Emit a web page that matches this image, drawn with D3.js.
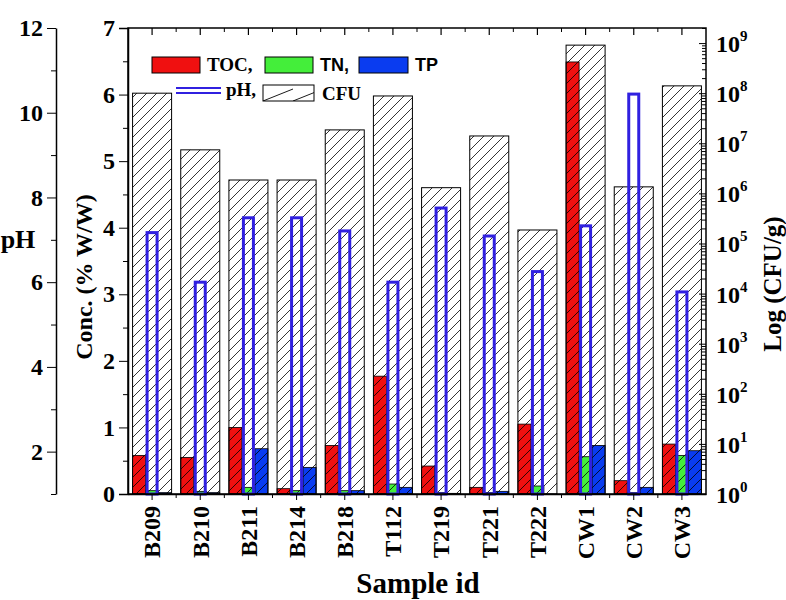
<!DOCTYPE html>
<html>
<head>
<meta charset="utf-8">
<script src="https://cdn.jsdelivr.net/npm/d3@7"></script>
<style>
  body { margin: 0; background: #fff; }
  svg text { font-family: "Liberation Serif", "Times New Roman", serif; font-weight: bold; fill: #000; }
  .sans { font-family: "Liberation Sans", Arial, sans-serif; }
</style>
</head>
<body>
<div id="chart"></div>
<script>
const samples = ['B209','B210','B211','B214','B218','T112','T219','T221','T222','CW1','CW2','CW3'];
const toc = [0.58, 0.55, 1.00, 0.08, 0.73, 1.77, 0.42, 0.10, 1.05, 6.49, 0.20, 0.75];
const tn  = [0.05, 0.04, 0.10, 0.05, 0.05, 0.15, 0.02, 0.02, 0.12, 0.56, 0.02, 0.58];
const tp  = [0.02, 0.02, 0.68, 0.40, 0.05, 0.10, 0.01, 0.04, 0.00, 0.73, 0.10, 0.65];
const ph  = [7.17, 6.00, 7.52, 7.52, 7.21, 6.00, 7.75, 7.09, 6.25, 7.33, 10.44, 5.77];
const cfu = [1.0e8, 7.4e6, 1.85e6, 1.85e6, 1.85e7, 8.8e7, 1.3e6, 1.4e7, 1.86e5, 9.1e8, 1.35e6, 1.4e8];
const phTicks = [2, 4, 6, 8, 10, 12];
const concTicks = [0, 1, 2, 3, 4, 5, 6, 7];
const logTicks = [0, 1, 2, 3, 4, 5, 6, 7, 8, 9];

const width = 786, height = 600;
const plotL = 128, plotR = 706, plotT = 28, plotB = 494;

const svg = d3.select('#chart').append('svg')
  .attr('width', width).attr('height', height);

const defs = svg.append('defs');
defs.append('pattern').attr('id', 'hatch')
  .attr('patternUnits', 'userSpaceOnUse').attr('width', 10).attr('height', 10)
  .append('path').attr('d', 'M-2,2 l4,-4 M0,10 l10,-10 M8,12 l4,-4')
  .attr('stroke', '#000').attr('stroke-width', 0.8);
defs.append('pattern').attr('id', 'hatchL')
  .attr('patternUnits', 'userSpaceOnUse').attr('width', 30).attr('height', 16)
  .attr('x', 263).attr('y', 85)
  .append('path').attr('d', 'M0,16 L30,4')
  .attr('stroke', '#000').attr('stroke-width', 0.9);

const x = d3.scaleBand().domain(samples).range([plotL, plotR])
  .paddingInner(0.19).paddingOuter(0.095);
const sub = d3.scaleBand().domain(['TOC', 'TN', 'TP']).range([0, x.bandwidth()]);
const yConc = d3.scaleLinear().domain([0, 7]).range([plotB, plotT]);
const yPH = d3.scaleLinear().domain([1, 12]).range([plotB, plotT]);
const yCFU = d3.scaleLog().domain([1, 2e9]).range([plotB, plotT]);

// concentration bars
const series = [
  { key: 'TOC', vals: toc, color: '#f01010' },
  { key: 'TN', vals: tn, color: '#44ee3a' },
  { key: 'TP', vals: tp, color: '#0a3cf0' }
];
series.forEach(s => {
  svg.append('g').selectAll('rect').data(samples).enter().append('rect')
    .attr('x', d => x(d) + sub(s.key))
    .attr('y', (d, i) => yConc(s.vals[i]))
    .attr('width', sub.bandwidth())
    .attr('height', (d, i) => plotB - yConc(s.vals[i]))
    .attr('fill', s.color)
    .attr('stroke', '#000').attr('stroke-width', 0.8);
});

// CFU hatched bars (transparent background)
svg.append('g').selectAll('rect').data(samples).enter().append('rect')
  .attr('x', d => x(d))
  .attr('y', (d, i) => yCFU(cfu[i]))
  .attr('width', x.bandwidth())
  .attr('height', (d, i) => plotB - yCFU(cfu[i]))
  .attr('fill', 'url(#hatch)')
  .attr('stroke', '#000').attr('stroke-width', 1);

// pH hollow bars
svg.append('g').selectAll('rect').data(samples).enter().append('rect')
  .attr('x', d => x(d) + sub('TN') + 1.5)
  .attr('y', (d, i) => yPH(ph[i]))
  .attr('width', sub.bandwidth() - 3)
  .attr('height', (d, i) => plotB - yPH(ph[i]))
  .attr('fill', 'none')
  .attr('stroke', '#3020e0').attr('stroke-width', 3);

// frame
svg.append('rect').attr('x', plotL).attr('y', plotT)
  .attr('width', plotR - plotL).attr('height', plotB - plotT)
  .attr('fill', 'none').attr('stroke', '#000').attr('stroke-width', 1.5);

const bounds = samples.slice(0, -1).map(d => x(d) + x.bandwidth() / 2 + x.step() / 2);

// bottom axis
const xAxis = svg.append('g').attr('transform', `translate(0,${plotB})`)
  .call(d3.axisBottom(x).tickSize(6).tickSizeOuter(0));
xAxis.select('.domain').attr('stroke-width', 1.5);
xAxis.selectAll('text')
  .attr('transform', 'rotate(-90)')
  .attr('x', -12).attr('y', 0).attr('dy', '0.35em')
  .style('text-anchor', 'end')
  .style('font-size', '24px');
svg.append('g').selectAll('line').data(bounds).enter().append('line')
  .attr('x1', d => d).attr('x2', d => d)
  .attr('y1', plotB).attr('y2', plotB + 4)
  .attr('stroke', '#000');

// top ticks
svg.append('g').selectAll('line').data(samples).enter().append('line')
  .attr('x1', d => x(d) + x.bandwidth() / 2).attr('x2', d => x(d) + x.bandwidth() / 2)
  .attr('y1', plotT).attr('y2', plotT + 7).attr('stroke', '#000').attr('stroke-width', 1.2);
svg.append('g').selectAll('line').data(bounds).enter().append('line')
  .attr('x1', d => d).attr('x2', d => d)
  .attr('y1', plotT).attr('y2', plotT + 4).attr('stroke', '#000');

// conc axis
const concAxis = svg.append('g').attr('transform', `translate(${plotL},0)`)
  .call(d3.axisLeft(yConc).tickValues(concTicks).tickSize(9).tickPadding(4).tickFormat(d3.format('d')));
concAxis.select('.domain').attr('stroke-width', 1.5);
concAxis.selectAll('text').style('font-size', '24px');
svg.append('g').attr('transform', `translate(${plotL},0)`)
  .call(d3.axisLeft(yConc).tickValues(d3.range(0.5, 7, 1)).tickSize(5).tickFormat(''))
  .select('.domain').remove();

// pH axis
const phAxis = svg.append('g').attr('transform', 'translate(56,0)')
  .call(d3.axisLeft(yPH).tickValues(phTicks).tickSize(9).tickSizeOuter(0).tickPadding(4));
phAxis.select('.domain').attr('stroke-width', 1.5);
phAxis.selectAll('text').style('font-size', '24px');
svg.append('g').attr('transform', 'translate(56,0)')
  .call(d3.axisLeft(yPH).tickValues([1, 3, 5, 7, 9, 11]).tickSize(5).tickFormat(''))
  .select('.domain').remove();

// right log axis
const minor = [];
logTicks.forEach(k => { for (let m = 2; m <= 9; m++) { if (m * Math.pow(10, k) <= 2e9) minor.push(m * Math.pow(10, k)); } });
svg.append('g').attr('transform', `translate(${plotR},0)`)
  .call(d3.axisLeft(yCFU).tickValues(logTicks.map(k => Math.pow(10, k))).tickSize(7).tickFormat(''))
  .select('.domain').remove();
svg.append('g').attr('transform', `translate(${plotR},0)`)
  .call(d3.axisLeft(yCFU).tickValues(minor).tickSize(4).tickFormat(''))
  .select('.domain').remove();
const logLab = svg.append('g').selectAll('text').data(logTicks).enter().append('text')
  .attr('x', 716).attr('y', k => yCFU(Math.pow(10, k)) + 9)
  .style('font-size', '24px');
logLab.append('tspan').text('10');
logLab.append('tspan').attr('dy', -11).style('font-size', '15px').text(k => k);

// axis titles
svg.append('text').attr('x', 18).attr('y', 248).attr('text-anchor', 'middle')
  .style('font-size', '26px').text('pH');
svg.append('text').attr('transform', 'translate(92,277) rotate(-90)').attr('text-anchor', 'middle')
  .style('font-size', '24px').text('Conc. (% W/W)');
svg.append('text').attr('transform', 'translate(781,284) rotate(-90)').attr('text-anchor', 'middle')
  .style('font-size', '25px').text('Log (CFU/g)');
svg.append('text').attr('x', 418).attr('y', 593).attr('text-anchor', 'middle')
  .style('font-size', '29px').text('Sample id');

// legend
const leg = svg.append('g');
leg.append('rect').attr('x', 152).attr('y', 57).attr('width', 48).attr('height', 16)
  .attr('fill', '#f01010').attr('stroke', '#000');
leg.append('text').attr('x', 207).attr('y', 71).style('font-size', '19px').text('TOC,');
leg.append('rect').attr('x', 265).attr('y', 57).attr('width', 48).attr('height', 16)
  .attr('fill', '#44ee3a').attr('stroke', '#000');
leg.append('text').attr('class', 'sans').attr('x', 320).attr('y', 71).style('font-size', '18px').text('TN,');
leg.append('rect').attr('x', 359).attr('y', 57).attr('width', 49).attr('height', 16)
  .attr('fill', '#0a3cf0').attr('stroke', '#000');
leg.append('text').attr('class', 'sans').attr('x', 415).attr('y', 71).style('font-size', '18px').text('TP');
leg.append('line').attr('x1', 176).attr('x2', 221).attr('y1', 88).attr('y2', 88)
  .attr('stroke', '#3020e0').attr('stroke-width', 2);
leg.append('line').attr('x1', 176).attr('x2', 221).attr('y1', 93).attr('y2', 93)
  .attr('stroke', '#3020e0').attr('stroke-width', 2);
leg.append('text').attr('x', 226).attr('y', 96).style('font-size', '19px').text('pH,');
leg.append('rect').attr('x', 263).attr('y', 85).attr('width', 51).attr('height', 16)
  .attr('fill', 'url(#hatchL)').attr('stroke', '#000');
leg.append('text').attr('x', 322).attr('y', 100).style('font-size', '19px').text('CFU');
</script>
</body>
</html>
